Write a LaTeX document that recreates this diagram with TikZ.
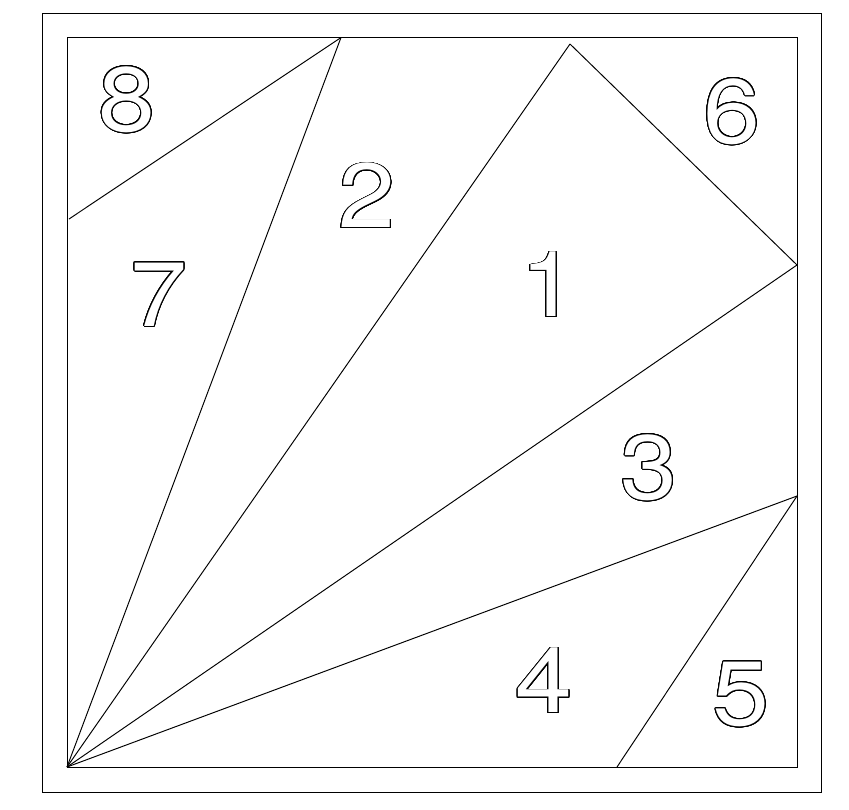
\documentclass[tikz,border=0pt]{standalone}
\usepackage{fontspec}
\usepackage[copies]{contour}
\newfontfamily\quiltfont[FakeStretch=1.12]{TeX Gyre Heros}
\contourlength{0.5pt}
\contournumber{32}
\newcommand{\patch}[1]{\textcolor{white}{\contour{black}{#1}}}

\begin{document}
\begin{tikzpicture}[x=0.02cm, y=-0.02cm]
\tikzset{seam/.style={line width=0.55pt, black}, piece/.style={inner sep=0, font=\quiltfont\fontsize{52}{52}\selectfont}}
        \useasboundingbox (0,0) rectangle (849,809);
        \draw[seam] (42.5,13) rectangle (821.5,792);
        \draw[seam] (67,37.5) rectangle (797,767);

        \coordinate (corner) at (67,767);
        \coordinate (top) at (341,37.5);
        \coordinate (apex) at (570,44);
        \coordinate (rightA) at (797,265);
        \coordinate (rightB) at (797,496);
        \coordinate (bottom) at (617,767);
        \coordinate (left) at (69,219);

        \draw[seam] (corner) -- (top);
        \draw[seam] (corner) -- (apex);
        \draw[seam] (corner) -- (rightA);
        \draw[seam] (corner) -- (rightB);
        \draw[seam] (apex) -- (rightA);
        \draw[seam] (left) -- (top);
        \draw[seam] (rightB) -- (bottom);

        \node[piece] (n1) at (549,285) {\patch{1}};
        \node[piece] (n2) at (367,196) {\patch{2}};
        \node[piece] (n3) at (649,468) {\patch{3}};
        \node[piece] (n4) at (544,681) {\patch{4}};
        \node[piece] (n5) at (741,695) {\patch{5}};
        \node[piece] (n6) at (732,112) {\patch{6}};
        \node[piece] (n7) at (159,295) {\patch{7}};
        \node[piece] (n8) at (127,100) {\patch{8}};
\end{tikzpicture}
\end{document}
